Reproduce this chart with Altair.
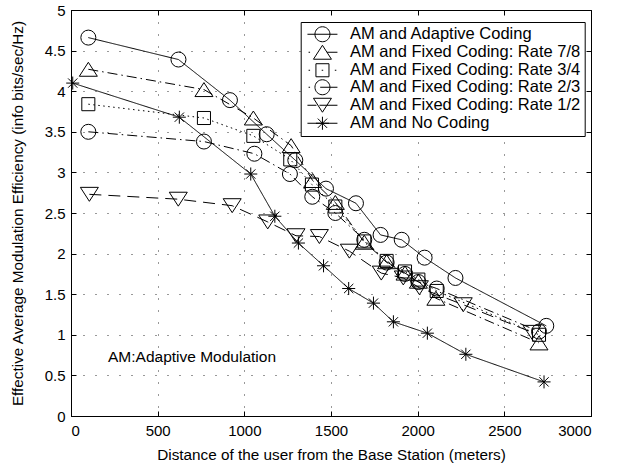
import altair as alt
import pandas as pd

FONT = "Liberation Sans"

series = [
    "AM and Adaptive Coding",
    "AM and Fixed Coding: Rate 7/8",
    "AM and Fixed Coding: Rate 3/4",
    "AM and Fixed Coding: Rate 2/3",
    "AM and Fixed Coding: Rate 1/2",
    "AM and No Coding",
]
dash_keys = ["s1", "s2", "s3", "s4", "s5", "s6"]

adaptive_x = [100, 620, 917, 1129, 1294, 1471, 1644, 1786, 1908, 2040, 2218, 2742]
adaptive_y = [4.66, 4.39, 3.89, 3.47, 3.15, 2.80, 2.62, 2.23, 2.17, 1.95, 1.70, 1.11]
r78_x = [100, 767, 1052, 1270, 1394, 1525, 1692, 1821, 1927, 2004, 2105, 2700]
r78_y = [4.27, 4.02, 3.67, 3.33, 2.90, 2.63, 2.14, 1.90, 1.76, 1.66, 1.45, 0.90]
r34_x = [100, 767, 1052, 1265, 1390, 1525, 1692, 1821, 1927, 2004, 2110, 2700]
r34_y = [3.84, 3.67, 3.45, 3.16, 2.85, 2.58, 2.15, 1.91, 1.78, 1.68, 1.54, 1.00]
r23_x = [100, 767, 1058, 1263, 1392, 1525, 1692, 1821, 1927, 2004, 2110, 2700]
r23_y = [3.50, 3.38, 3.23, 2.98, 2.70, 2.50, 2.17, 1.89, 1.75, 1.65, 1.57, 1.04]
r12_x = [106, 619, 930, 1135, 1298, 1433, 1606, 1790, 1917, 2010, 2263, 2660]
r12_y = [2.73, 2.67, 2.59, 2.39, 2.22, 2.21, 2.03, 1.76, 1.70, 1.58, 1.37, 1.03]
none_x = [10, 625, 1037, 1176, 1312, 1457, 1602, 1745, 1860, 2056, 2278, 2729]
none_y = [4.10, 3.68, 2.98, 2.46, 2.13, 1.85, 1.57, 1.39, 1.16, 1.02, 0.76, 0.42]

x_ticks = [0, 500, 1000, 1500, 2000, 2500, 3000]
y_ticks = [0, 0.5, 1, 1.5, 2, 2.5, 3, 3.5, 4, 4.5, 5]

xs = [adaptive_x, r78_x, r34_x, r23_x, r12_x, none_x]
ys = [adaptive_y, r78_y, r34_y, r23_y, r12_y, none_y]

rows = []
for s, k, xv, yv in zip(series, dash_keys, xs, ys):
    for i, (a, b) in enumerate(zip(xv, yv)):
        rows.append({"series": s, "dkey": k, "idx": i, "x": a, "y": b})
df = pd.DataFrame(rows)

# ---- styles ----
CIRC = "M-1,0A1,1 0 1,1 1,0A1,1 0 1,1 -1,0"
TRI_UP = "M0,-0.93L1.2,0.93L-1.2,0.93Z"
TRI_DOWN = "M0,0.93L1.2,-0.93L-1.2,-0.93Z"
SQUARE = "M-0.87,-0.87L0.87,-0.87L0.87,0.87L-0.87,0.87Z"
STAR = "M-0.87,0L0.87,0M0,-0.87L0,0.87M-0.62,-0.62L0.62,0.62M-0.62,0.62L0.62,-0.62"
shapes = ["circle", TRI_UP, SQUARE, "circle", TRI_DOWN, STAR]
dashes = [[1, 0], [10, 4, 1.5, 4], [1.5, 3.5], [10, 4, 1.5, 4], [12, 7], [1, 0]]
# legend symbols: marker plus a short sample of the line style
legend_shapes = [
    "M-2,0L2,0" + CIRC,
    "M-1.85,0L-1.65,0M0.6,0L2,0" + TRI_UP,
    "M-1.85,0L-1.65,0M-0.1,0L0.1,0M1.65,0L1.85,0" + SQUARE,
    "M-1.85,0L-1.65,0M-0.3,0L2,0" + CIRC,
    "M-2,0L-0.8,0M-0.4,0L2,0" + TRI_DOWN,
    "M-2,0L2,0" + STAR,
]

xscale = alt.Scale(domain=[0, 3000], nice=False, zero=False)
yscale = alt.Scale(domain=[0, 5], nice=False, zero=False)

main_x_axis = alt.Axis(
    orient="bottom", values=x_ticks, format="d",
    grid=True, gridDash=[1, 11], gridColor="black", gridOpacity=0.8, gridWidth=1,
    ticks=False, domain=True, domainColor="black", domainWidth=1,
    labelFont=FONT, labelFontSize=15, labelColor="black", labelPadding=7,
    title="Distance of the user from the Base Station (meters)",
    titleFont=FONT, titleFontSize=15.3, titleFontWeight="normal", titleColor="black",
    titleY=38, titleBaseline="middle",
)
main_y_axis = alt.Axis(
    orient="left", values=y_ticks, format="~g",
    grid=True, gridDash=[1, 11], gridColor="black", gridOpacity=0.8, gridWidth=1,
    ticks=False, domain=True, domainColor="black", domainWidth=1,
    labelFont=FONT, labelFontSize=15, labelColor="black", labelPadding=6,
    title="Effective Average Modulation Efficiency (info bits/sec/Hz)",
    titleFont=FONT, titleFontSize=15.3, titleFontWeight="normal", titleColor="black",
    titleX=-54, titleBaseline="middle",
)


def tick_axis(orient, vals):
    return alt.Axis(
        orient=orient, values=vals, ticks=True, tickSize=5, tickColor="black",
        tickWidth=1, labels=False, domain=False, grid=False, title="", offset=-5,
    )


lines = alt.Chart(df).mark_line(color="black", strokeWidth=1).encode(
    x=alt.X("x:Q", scale=xscale, axis=main_x_axis),
    y=alt.Y("y:Q", scale=yscale, axis=main_y_axis),
    strokeDash=alt.StrokeDash(
        "dkey:N", scale=alt.Scale(domain=dash_keys, range=dashes), legend=None
    ),
    order="idx:Q",
)

points = alt.Chart(df).mark_point(
    filled=False, color="black", strokeWidth=1, size=225, opacity=1
).encode(
    x=alt.X("x:Q", scale=xscale, axis=tick_axis("bottom", x_ticks)),
    y=alt.Y("y:Q", scale=yscale, axis=tick_axis("left", y_ticks)),
    shape=alt.Shape("dkey:N", scale=alt.Scale(domain=dash_keys, range=shapes), legend=None),
)

legend_layer = alt.Chart(df).mark_point(
    filled=False, color="black", strokeWidth=1, size=225, opacity=0
).encode(
    x=alt.X("x:Q", scale=xscale, axis=tick_axis("top", x_ticks)),
    y=alt.Y("y:Q", scale=yscale, axis=tick_axis("right", y_ticks)),
    shape=alt.Shape(
        "series:N",
        scale=alt.Scale(domain=series, range=legend_shapes),
        legend=alt.Legend(
            title=None, orient="none", legendX=229.7, legendY=12, padding=4,
            strokeColor="black", fillColor="white",
            symbolSize=225, symbolStrokeColor="black", symbolFillColor="transparent",
            symbolStrokeWidth=1, symbolOpacity=1, symbolOffset=9.5,
            labelFont=FONT, labelFontSize=16.5, labelColor="black", labelOffset=19.3,
            rowPadding=-2.1, labelLimit=400,
        ),
    ),
)

note = alt.Chart(pd.DataFrame({"t": ["AM:Adaptive Modulation"]})).mark_text(
    align="left", baseline="middle", font=FONT, fontSize=15.5, color="black"
).encode(x=alt.value(37), y=alt.value(347), text="t:N")

chart = alt.layer(lines, points, legend_layer, note).resolve_axis(
    x="independent", y="independent"
).resolve_scale(shape="independent").properties(
    width=520, height=406,
    autosize=alt.AutoSizeParams(type="none"),
    padding={"left": 71, "top": 10, "right": 27, "bottom": 52},
).configure_view(stroke="black", strokeWidth=1)

chart.save("out.html", embed_options={"renderer": "svg", "actions": False})
